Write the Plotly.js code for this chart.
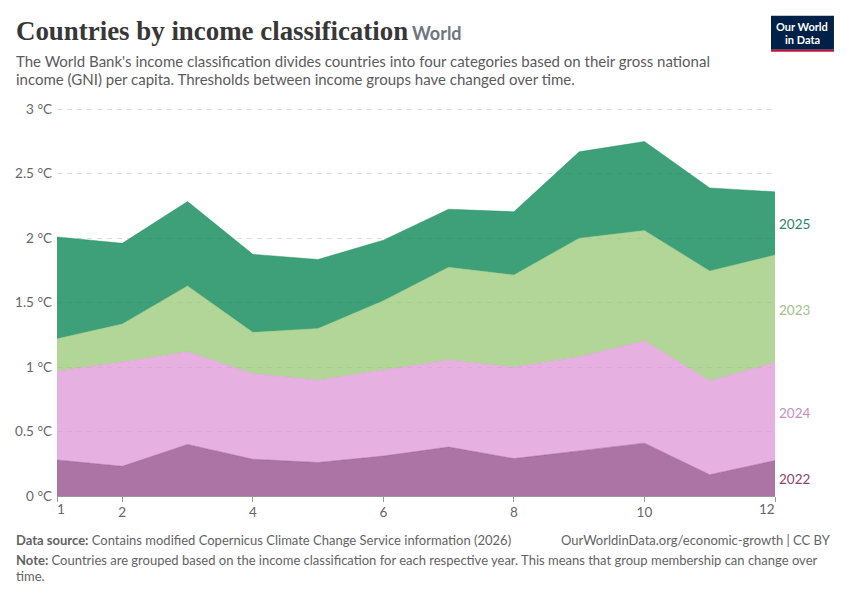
<!DOCTYPE html>
<html>
<head>
<meta charset="utf-8">
<script src="https://cdn.plot.ly/plotly-3.0.1.min.js"></script>
<style>html,body{margin:0;padding:0;background:#fff}#chart{width:850px;height:600px}</style>
</head>
<body>
<div id="chart"></div>
<script>
const months = [1,2,3,4,5,6,7,8,9,10,11,12];
const values2022 = [0.28,0.23,0.40,0.285,0.26,0.31,0.38,0.29,0.35,0.41,0.165,0.275];
const values2024 = [0.69,0.81,0.72,0.665,0.64,0.67,0.675,0.71,0.73,0.795,0.73,0.76];
const values2023 = [0.25,0.295,0.51,0.32,0.40,0.535,0.72,0.715,0.92,0.855,0.85,0.835];
const values2025 = [0.79,0.625,0.655,0.605,0.535,0.47,0.45,0.49,0.67,0.69,0.645,0.49];
const seriesNames = ['2022','2024','2023','2025'];
const seriesValues = [values2022,values2024,values2023,values2025];
const fillColors = ['rgba(139,62,130,0.72)','rgba(222,150,214,0.75)','rgba(148,198,112,0.72)','rgba(10,134,84,0.79)'];
const labelColors = ['#8C4569','#C68FC0','#A2C08A','#2C8465'];
const xTicks = [1,2,4,6,8,10,12];
const yTicks = [0,0.5,1,1.5,2,2.5,3];

const W=850,H=600;
const L=56.5,R=775,T=108.2,B=496.5;
const px=x=>(x-L)/(R-L), py=y=>(B-y)/(B-T);
const font='Lato, sans-serif';

function textAt(x,y,text,size,color,anchor,family,valign){
  return {xref:'paper',yref:'paper',x:px(x),y:py(y),text,showarrow:false,xanchor:anchor||'left',yanchor:valign||'middle',
    align:anchor||'left',font:{family:family||font,size,color},borderpad:0,borderwidth:0};
}

const traces = seriesNames.map((n,i)=>({
  x:months,y:seriesValues[i],name:n,type:'scatter',mode:'lines',stackgroup:'one',
  line:{color:fillColors[i],width:0.5},fillcolor:fillColors[i],hoverinfo:'x+y+name'
}));

let cum=0;
const endLabels = seriesNames.map((n,i)=>{
  const v=seriesValues[i][seriesValues[i].length-1];
  const mid=cum+v/2;cum+=v;
  return {xref:'x',yref:'y',x:12,y:mid,xshift:2,yshift:-1,text:n,showarrow:false,xanchor:'left',yanchor:'middle',
    font:{family:font,size:13.5,color:labelColors[i]}};
});

const annotations = [
  textAt(15,31,'<b>Countries by income classification</b>',26.9,'#373737','left','Liberation Serif'),
  textAt(412,33.5,'<b>World</b>',18,'#6e7581'),
  textAt(15,61.5,"The World Bank's income classification divides countries into four categories based on their gross national",15,'#5b5b5b'),
  textAt(15,79.5,'income (GNI) per capita. Thresholds between income groups have changed over time.',15,'#5b5b5b'),
  textAt(802.5,26.5,'<b>Our World</b>',11,'#ffffff','center'),
  textAt(802.5,39.5,'<b>in Data</b>',11,'#ffffff','center'),
  textAt(15,540.5,'<b>Data source:</b> Contains modified Copernicus Climate Change Service information (2026)',13,'#636363'),
  textAt(831,540.5,'OurWorldinData.org/economic-growth | CC BY',13,'#636363','right'),
  textAt(15,561,'<b>Note:</b> Countries are grouped based on the income classification for each respective year. This means that group membership can change over',13,'#636363'),
  textAt(15,576.5,'time.',13,'#636363'),
  {xref:'x',yref:'paper',x:1,xshift:-2,y:py(510),text:'1',showarrow:false,xanchor:'left',yanchor:'middle',font:{family:font,size:13.5,color:'#666666'}},
  {xref:'x',yref:'paper',x:12,xshift:2,y:py(510),text:'12',showarrow:false,xanchor:'right',yanchor:'middle',font:{family:font,size:13.5,color:'#666666'}},
  ...endLabels
];

const layout = {
  width:W,height:H,paper_bgcolor:'#fff',plot_bgcolor:'#fff',showlegend:false,
  margin:{l:L,r:W-R,t:T,b:H-B,pad:0},
  font:{family:font,color:'#666666',size:13.5},
  xaxis:{range:[1,12],tickmode:'array',tickvals:xTicks,
    ticktext:xTicks.map(t=>(t===1||t===12)?' ':String(t)),
    ticks:'outside',ticklen:5,tickwidth:1,tickcolor:'#999999',showgrid:false,zeroline:false,
    showline:true,linecolor:'#999999',linewidth:1,ticklabelstandoff:-1,tickfont:{family:font,size:13.5,color:'#666666'}},
  yaxis:{range:[0,3.01],tickmode:'array',tickvals:yTicks,ticktext:yTicks.map(t=>t+' °C'),
    showgrid:true,gridcolor:'#dddddd',griddash:'5px,5px',gridwidth:1,zeroline:false,showline:false,ticks:'',
    ticklabelstandoff:4,tickfont:{family:font,size:13.5,color:'#666666'}},
  shapes:[
    {type:'rect',xref:'paper',yref:'paper',x0:px(771),x1:px(834),y0:py(16),y1:py(50),fillcolor:'#002147',line:{width:0}},
    {type:'rect',xref:'paper',yref:'paper',x0:px(771),x1:px(834),y0:py(50),y1:py(52),fillcolor:'#C0143C',line:{width:0}}
  ],
  annotations
};
Plotly.newPlot('chart',traces,layout,{displayModeBar:false,staticPlot:true});
</script>
</body>
</html>
